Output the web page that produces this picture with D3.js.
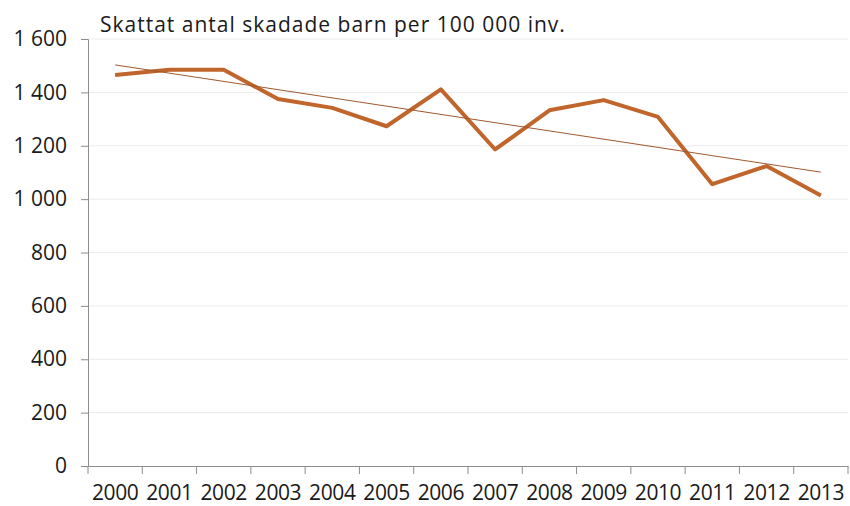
<!DOCTYPE html>
<html>
<head>
<meta charset="utf-8">
<script src="https://cdn.jsdelivr.net/npm/d3@7"></script>
<style>
  body { margin: 0; background: #fff; }
  svg { font-family: "Open Sans", Lato, sans-serif; }
</style>
</head>
<body>
<svg id="chart"></svg>
<script>
// data
const years = ["2000","2001","2002","2003","2004","2005","2006","2007","2008","2009","2010","2011","2012","2013"]
const values = [1465, 1485, 1485, 1375, 1342, 1273, 1411, 1186, 1333, 1371, 1308, 1056, 1124, 1014]
const yTicks = [0, 200, 400, 600, 800, 1000, 1200, 1400, 1600]
const title = "Skattat antal skadade barn per 100 000 inv."

const width = 850, height = 506
const margin = {top: 39, right: 2, bottom: 40, left: 88}
const fontFam = "'Open Sans', Lato, sans-serif"

const svg = d3.select("#chart")
    .attr("width", width)
    .attr("height", height)

const x = d3.scaleBand()
    .domain(years)
    .range([margin.left, width - margin.right])

const y = d3.scaleLinear()
    .domain([0, 1600])
    .range([height - margin.bottom, margin.top])

const fmt = d3.formatLocale({decimal: ",", thousands: " ", grouping: [3], currency: ["", ""]}).format(",")

// gridlines
svg.append("g")
    .selectAll("line")
    .data(yTicks.filter(d => d > 0))
    .enter()
    .append("line")
    .attr("x1", margin.left)
    .attr("x2", width - margin.right)
    .attr("y1", d => y(d))
    .attr("y2", d => y(d))
    .attr("stroke", "#ececec")
    .attr("stroke-width", 1)

// y axis
const yAxis = svg.append("g")
    .attr("transform", `translate(${margin.left},0)`)
    .call(d3.axisLeft(y).tickValues(yTicks).tickSize(7).tickPadding(14).tickFormat(fmt))
yAxis.select(".domain").attr("stroke", "#8c8c8c")
yAxis.selectAll(".tick line").attr("stroke", "#8c8c8c")
yAxis.selectAll("text")
    .attr("font-size", 21)
    .attr("fill", "#1a1a1a")
    .attr("font-family", fontFam)

// x axis
const xAxis = svg.append("g")
    .attr("transform", `translate(0,${y(0)})`)
    .call(d3.axisBottom(x).tickSize(0).tickPadding(19))
xAxis.select(".domain").attr("stroke", "#8c8c8c")
xAxis.selectAll("text")
    .attr("font-size", 21)
    .attr("letter-spacing", -0.4)
    .attr("fill", "#1a1a1a")
    .attr("font-family", fontFam)
// ticks between categories
xAxis.append("g")
    .selectAll("line")
    .data(years.concat(["end"]))
    .enter()
    .append("line")
    .attr("x1", (d, i) => margin.left + i * x.step())
    .attr("x2", (d, i) => margin.left + i * x.step())
    .attr("y1", 0)
    .attr("y2", 8)
    .attr("stroke", "#8c8c8c")

// linear trend (least squares)
const n = values.length
const xm = (n - 1) / 2
const ym = d3.mean(values)
const slope = d3.sum(values, (v, i) => (i - xm) * (v - ym)) / d3.sum(values, (v, i) => (i - xm) * (i - xm))
const trend = values.map((v, i) => ym + slope * (i - xm))

const line = d3.line()
    .x((d, i) => x(years[i]) + x.bandwidth() / 2)
    .y(d => y(d))

svg.append("path")
    .datum(values)
    .attr("d", line)
    .attr("fill", "none")
    .attr("stroke", "#c0652b")
    .attr("stroke-width", 4)
    .attr("stroke-linejoin", "round")

svg.append("path")
    .datum([trend[0], trend[n - 1]])
    .attr("d", d3.line()
        .x((d, i) => x(years[i * (n - 1)]) + x.bandwidth() / 2)
        .y(d => y(d)))
    .attr("fill", "none")
    .attr("stroke", "#a0582e")
    .attr("stroke-width", 1)

// title
svg.append("text")
    .attr("x", 100)
    .attr("y", 32)
    .attr("font-size", 21)
    .attr("letter-spacing", 1.0)
    .attr("fill", "#1a1a1a")
    .text(title)
</script>
</body>
</html>
